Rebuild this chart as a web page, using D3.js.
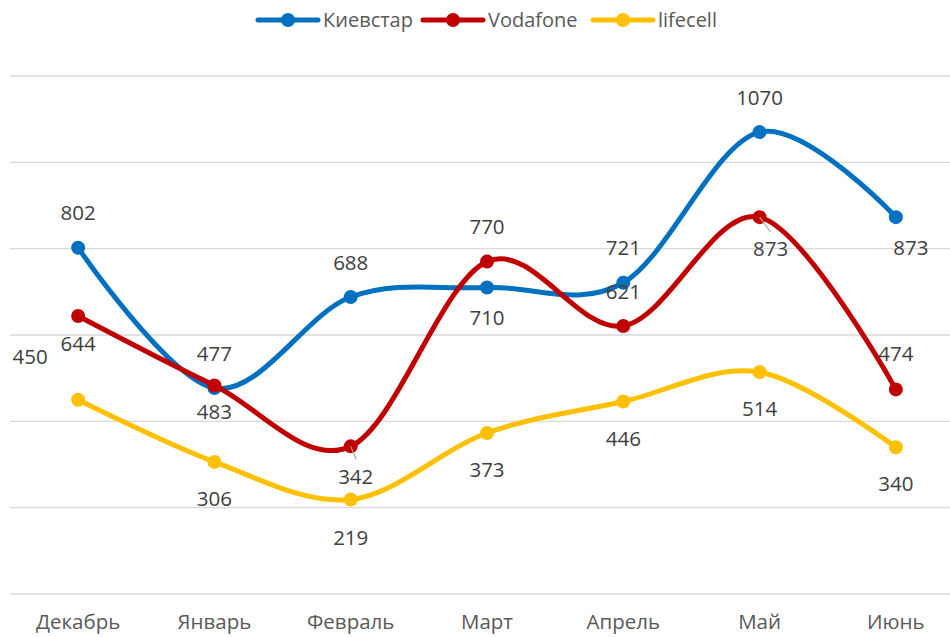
<!DOCTYPE html>
<meta charset="utf-8">
<head>
<script src="https://d3js.org/d3.v7.min.js"></script>
<style>
  body { margin: 0; background: #fff; }
  text { font-family: "Open Sans", sans-serif; fill: #595959; }
  .grid line { stroke: #d9d9d9; stroke-width: 1.3; }
  .lbl { font-size: 20.5px; fill: #404040; }
</style>
</head>
<body>
<script>
// data
var months = ["Декабрь", "Январь", "Февраль", "Март", "Апрель", "Май", "Июнь"];
var seriesNames = ["Киевстар", "Vodafone", "lifecell"];
var kyivstar = [802, 477, 688, 710, 721, 1070, 873];
var vodafone = [644, 483, 342, 770, 621, 873, 474];
var lifecell = [450, 306, 219, 373, 446, 514, 340];
var yTicks = [0, 200, 400, 600, 800, 1000, 1200];

var colors = ["#0070C0", "#C00000", "#FFC000"];

// label offsets (dx, dy of label centre from the point), placed like the original
var labelOffsets = [
  [[0,-35],[0,-34],[0,-34],[0,30],[0,-35],[0,-34],[15,31]],
  [[0,28],[0,26],[5,30],[0,-35],[0,-34],[11,32],[0,-36]],
  [[-48,-43],[0,37],[0,38],[0,37],[0,37],[0,37],[0,37]]
];

var width = 950, height = 637;
var x = d3.scaleBand().domain(months).range([10, 964]);
var y = d3.scaleLinear().domain([0, 1200]).range([594, 76]);

var svg = d3.select("body").append("svg")
    .attr("width", width)
    .attr("height", height);

// gridlines
svg.append("g").attr("class", "grid")
  .selectAll("line").data(yTicks).enter().append("line")
    .attr("x1", 10).attr("x2", 964)
    .attr("y1", function(d) { return y(d); })
    .attr("y2", function(d) { return y(d); });

// x axis labels
svg.append("g")
  .selectAll("text").data(months).enter().append("text")
    .attr("x", function(d) { return x(d) + x.bandwidth() / 2; })
    .attr("y", 622)
    .attr("dy", "0.35em")
    .attr("text-anchor", "middle")
    .style("font-size", "20.5px")
    .text(function(d) { return d; });

var data = [kyivstar, vodafone, lifecell];
var cx = function(i) { return x(months[i]) + x.bandwidth() / 2; };

var line = d3.line()
    .x(function(d, i) { return cx(i); })
    .y(function(d) { return y(d); })
    .curve(d3.curveCatmullRom.alpha(0));

data.forEach(function(vals, s) {
  var g = svg.append("g");
  g.append("path")
    .datum(vals)
    .attr("fill", "none")
    .attr("stroke", colors[s])
    .attr("stroke-width", 5)
    .attr("stroke-linecap", "round")
    .attr("d", line);
  g.selectAll("circle").data(vals).enter().append("circle")
    .attr("cx", function(d, i) { return cx(i); })
    .attr("cy", function(d) { return y(d); })
    .attr("r", 7)
    .attr("fill", colors[s]);
});

// leader lines (Vodafone Feb and May)
[[1, 2], [1, 5]].forEach(function(p) {
  var s = p[0], i = p[1];
  var px = cx(i), py = y(data[s][i]);
  var o = labelOffsets[s][i];
  svg.append("line")
    .attr("x1", px).attr("y1", py)
    .attr("x2", px + o[0] * 0.9 + 1).attr("y2", py + (o[1] - 18) * 0.9 + 2)
    .attr("stroke", "#a6a6a6").attr("stroke-width", 1.2);
});

// data labels
data.forEach(function(vals, s) {
  svg.append("g").selectAll("text").data(vals).enter().append("text")
    .attr("class", "lbl")
    .attr("x", function(d, i) { return cx(i) + labelOffsets[s][i][0]; })
    .attr("y", function(d, i) { return y(d) + labelOffsets[s][i][1]; })
    .attr("dy", "0.35em")
    .attr("text-anchor", "middle")
    .text(function(d) { return d; });
});

// legend
var legendX = [258, 423, 593];
var legend = svg.append("g");
seriesNames.forEach(function(name, s) {
  var lx = legendX[s];
  legend.append("line")
    .attr("x1", lx).attr("x2", lx + 60)
    .attr("y1", 20).attr("y2", 20)
    .attr("stroke", colors[s]).attr("stroke-width", 5)
    .attr("stroke-linecap", "round");
  legend.append("circle")
    .attr("cx", lx + 30).attr("cy", 20).attr("r", 7)
    .attr("fill", colors[s]);
  legend.append("text")
    .attr("x", lx + 65).attr("y", 20)
    .attr("dy", "0.35em")
    .style("font-size", "20px")
    .text(name);
});
</script>
</body>
